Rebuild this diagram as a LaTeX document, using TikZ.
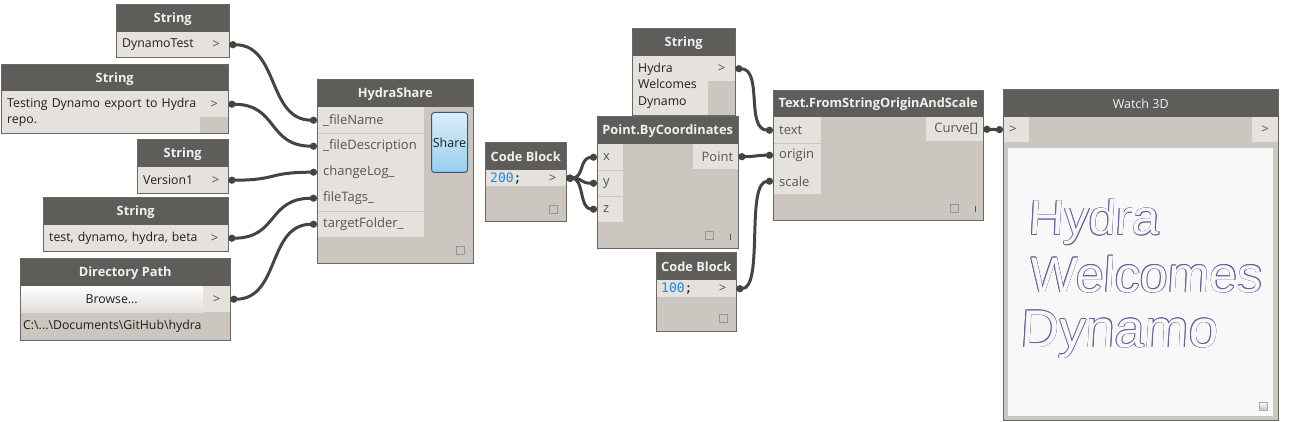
\documentclass[tikz,border=0pt]{standalone}
\usepackage{fontspec}
\setmainfont{Open Sans}
\newfontfamily\codefont{DejaVu Sans Mono}
\newfontfamily\viewfont{Liberation Sans}
\usetikzlibrary{arrows.meta,shapes,positioning}
\definecolor{headgrey}{RGB}{94,93,89}
\definecolor{headtext}{RGB}{240,240,240}
\definecolor{bodygrey}{RGB}{203,198,191}
\definecolor{portlight}{RGB}{229,226,221}
\definecolor{framegrey}{RGB}{105,104,101}
\definecolor{wiregrey}{RGB}{68,68,68}
\definecolor{porttext}{RGB}{85,85,85}
\definecolor{valtext}{RGB}{30,30,30}
\definecolor{codeblue}{RGB}{30,136,229}
\definecolor{sharetop}{RGB}{218,238,251}
\definecolor{sharebot}{RGB}{150,206,238}
\definecolor{shareframe}{RGB}{60,88,118}
\definecolor{viewbg}{RGB}{248,248,248}
\definecolor{outline}{RGB}{105,95,160}
\definecolor{togglegrey}{RGB}{150,150,150}
\tikzstyle{box}=[fill=bodygrey,anchor=north west,inner sep=0pt]
\tikzstyle{frame}=[draw=framegrey,line width=1pt]
\tikzstyle{head}=[fill=headgrey,text=headtext,anchor=north west,inner sep=0pt,minimum height=27pt,font=\fontsize{12.8}{14}\selectfont\bfseries]
\tikzstyle{cell}=[fill=portlight,anchor=north west,inner xsep=6pt,inner ysep=0pt,align=left,text=valtext,font=\fontsize{12.3}{16.5}\selectfont]
\tikzstyle{inport}=[cell,text=porttext,font=\fontsize{13}{16}\selectfont]
\tikzstyle{outport}=[cell,text=porttext,align=center,font=\fontsize{13}{16}\selectfont]
\tikzstyle{code}=[cell,inner xsep=5pt,font=\codefont\fontsize{13}{16}\selectfont]
\tikzstyle{toggle}=[draw=togglegrey,line width=0.8pt,minimum size=8pt,inner sep=0pt]
\tikzstyle{sepline}=[draw=bodygrey,line width=1pt]
\tikzstyle{wire}=[draw=wiregrey,line width=3pt,{Circle[length=7pt,width=7pt]}-{Circle[length=7pt,width=7pt]}]
\tikzstyle{viewtext}=[anchor=base west,inner sep=0pt,xslant=0.06]

\begin{document}
\begin{tikzpicture}[x=1pt,y=-1pt]
    \fill[white] (0,0) rectangle (1304,422);
    \useasboundingbox (0,0) rectangle (1304,422);

    % First we draw the String inputs
    \node[box,minimum width=113pt,minimum height=52pt] (str1) at (116,5) {};
    \node[head,minimum width=113pt] (str1-head) at (116,5) {String};
    \node[cell,text width=75pt,minimum height=25pt] (str1-val) at (116,32) {DynamoTest};
    \node[outport,text width=14pt,minimum height=25pt] (str1-out) at (203,32) {>};

    \node[box,minimum width=227pt,minimum height=68pt] (str2) at (1,65) {};
    \node[head,minimum width=227pt] (str2-head) at (1,65) {String};
    \node[cell,text width=187pt,minimum height=42pt] (str2-val) at (1,91) {\mbox{Testing Dynamo export to Hydra}\\repo.};
    \node[outport,text width=16pt,minimum height=26pt] (str2-out) at (200,91) {>};

    \node[box,minimum width=91pt,minimum height=53pt] (str3) at (137,140) {};
    \node[head,minimum width=91pt] (str3-head) at (137,140) {String};
    \node[cell,text width=54pt,minimum height=26pt] (str3-val) at (137,167) {\mbox{Version1}};
    \node[outport,text width=13pt,minimum height=26pt] (str3-out) at (203,167) {>};

    \node[box,minimum width=185pt,minimum height=53pt] (str4) at (43,198) {};
    \node[head,minimum width=185pt] (str4-head) at (43,198) {String};
    \node[cell,text width=146pt,minimum height=26pt] (str4-val) at (43,225) {\mbox{test, dynamo, hydra, beta}};
    \node[outport,text width=15pt,minimum height=26pt] (str4-out) at (201,225) {>};

    % Directory Path
    \node[box,minimum width=210pt,minimum height=81pt] (dir) at (20,259) {};
    \node[head,minimum width=210pt] (dir-head) at (20,259) {Directory Path};
    \node[cell,align=center,top color=white,bottom color=portlight!85!bodygrey,text width=171pt,minimum height=26pt] (dir-browse) at (20,286) {Browse...};
    \node[outport,text width=15pt,minimum height=26pt] (dir-out) at (203,286) {>};
    \node[cell,fill=none,inner xsep=3pt,text width=204pt,minimum height=28pt] (dir-path) at (20,312) {\mbox{C:\textbackslash...\textbackslash Documents\textbackslash GitHub\textbackslash hydra}};

    % HydraShare with its five inputs
    \node[box,minimum width=156pt,minimum height=183pt] (hs) at (317,80) {};
    \node[head,minimum width=156pt] (hs-head) at (317,80) {HydraShare};
    \foreach \y/\name/\lbl in {107/fileName/\_fileName, 133/fileDescription/\_fileDescription, 159/changeLog/changeLog\_, 185/fileTags/fileTags\_, 211/targetFolder/targetFolder\_}
        \node[inport,text width=95pt,minimum height=26pt] (hs-\name) at (317,\y) {\lbl};
    \draw[sepline] (hs-fileName.south west) -- (hs-fileName.south east);
    \draw[sepline] (hs-fileTags.south west) -- (hs-fileTags.south east);
    \node[anchor=north west,draw=shareframe,line width=1pt,rounded corners=3pt,top color=sharetop,bottom color=sharebot,minimum width=36pt,minimum height=60pt,inner sep=0pt,font=\fontsize{12.5}{14}\selectfont,text=valtext] (hs-share) at (431,112) {Share};
    \node[toggle] (hs-toggle) at (460,250) {};

    % Code Block feeding the point
    \node[box,minimum width=81pt,minimum height=78pt] (cb1) at (485,143) {};
    \node[head,minimum width=81pt] (cb1-head) at (485,143) {Code Block};
    \node[code,text width=44pt,minimum height=16pt] (cb1-val) at (485,170) {\textcolor{codeblue}{200};};
    \node[outport,text width=15pt,minimum height=16pt] (cb1-out) at (539,170) {>};
    \node[toggle] (cb1-toggle) at (553,209) {};

    % Point.ByCoordinates
    \node[box,minimum width=141pt,minimum height=131pt] (pt) at (597,117) {};
    \node[head,minimum width=141pt] (pt-head) at (597,117) {Point.ByCoordinates};
    \foreach \y/\name in {144/x, 170/y, 196/z}
        \node[inport,text width=14pt,minimum height=26pt] (pt-\name) at (597,\y) {\name};
    \draw[sepline] (pt-x.south west) -- (pt-x.south east);
    \draw[sepline] (pt-y.south west) -- (pt-y.south east);
    \node[outport,align=right,inner xsep=5pt,text width=35pt,minimum height=25pt] (pt-out) at (693,144) {Point};
    \node[toggle] (pt-toggle) at (709,235) {};
    \draw[draw=porttext,line width=1pt] (pt.south east) ++(-8,-8) -- ++(0,-6);

    % String with the words
    \node[box,minimum width=103pt,minimum height=86pt] (str5) at (632,29) {};
    \node[head,minimum width=103pt] (str5-head) at (632,29) {String};
    \node[cell,text width=64pt,minimum height=59pt] (str5-val) at (632,56) {Hydra\\Welcomes\\Dynamo};
    \node[outport,text width=15pt,minimum height=25pt] (str5-out) at (708,56) {>};

    % Code Block for the scale
    \node[box,minimum width=80pt,minimum height=78pt] (cb2) at (656,253) {};
    \node[head,minimum width=80pt] (cb2-head) at (656,253) {Code Block};
    \node[code,text width=43pt,minimum height=17pt] (cb2-val) at (656,280) {\textcolor{codeblue}{100};};
    \node[outport,text width=15pt,minimum height=17pt] (cb2-out) at (709,280) {>};
    \node[toggle] (cb2-toggle) at (723,318) {};

    % Text.FromStringOriginAndScale
    \node[box,minimum width=210pt,minimum height=129pt] (txt) at (773,91) {};
    \node[head,minimum width=210pt,minimum height=26pt] (txt-head) at (773,91) {Text.FromStringOriginAndScale};
    \foreach \y/\name in {117/text, 142/origin, 168/scale}
        \node[inport,text width=36pt,minimum height=26pt] (txt-\name) at (773,\y) {\name};
    \draw[sepline] (txt-text.south west) -- (txt-text.south east);
    \node[outport,align=right,inner xsep=5pt,text width=47pt,minimum height=24pt] (txt-out) at (926,117) {Curve[]};
    \node[toggle] (txt-toggle) at (954,208) {};
    \draw[draw=porttext,line width=1pt] (txt.south east) ++(-8,-8) -- ++(0,-6);

    % Watch 3D
    \node[box,minimum width=275pt,minimum height=330pt] (w3) at (1003,90) {};
    \node[head,minimum width=275pt,font=\fontsize{12.5}{14}\selectfont] (w3-head) at (1003,90) {Watch 3D};
    \node[inport,align=left,text width=14pt,minimum height=25pt] (w3-in) at (1003,117) {>};
    \node[outport,text width=14pt,minimum height=25pt] (w3-out) at (1252,117) {>};
    \node[anchor=north west,fill=viewbg,minimum width=265pt,minimum height=268pt,inner sep=0pt] (w3-view) at (1008,148) {};
    \node[anchor=north west,inner sep=0pt,minimum size=8pt,top color=white,bottom color=togglegrey!60,draw=togglegrey!80] (w3-corner) at (1259,402) {};
    \foreach \dx/\dy [count=\i] in {0.6/0,-0.6/0,0/0.6,0/-0.6,0.45/0.45,-0.45/0.45,0.45/-0.45,-0.45/-0.45} {
        \node[viewtext,text=outline,xshift=\dx pt,yshift=\dy pt,font=\viewfont\fontsize{49}{49}\selectfont] (w3-hydra-\i) at (1028,235) {Hydra};
        \node[viewtext,text=outline,xshift=\dx pt,yshift=\dy pt,font=\viewfont\fontsize{50}{50}\selectfont] (w3-welcomes-\i) at (1029,292) {Welcomes};
        \node[viewtext,text=outline,xshift=\dx pt,yshift=\dy pt,font=\viewfont\fontsize{53}{53}\selectfont] (w3-dynamo-\i) at (1020,347) {Dynamo};
    }
    \node[viewtext,text=viewbg,font=\viewfont\fontsize{49}{49}\selectfont] (w3-hydra) at (1028,235) {Hydra};
    \node[viewtext,text=viewbg,font=\viewfont\fontsize{50}{50}\selectfont] (w3-welcomes) at (1029,292) {Welcomes};
    \node[viewtext,text=viewbg,font=\viewfont\fontsize{53}{53}\selectfont] (w3-dynamo) at (1020,347) {Dynamo};

    % Frames round the nodes
    \foreach \n in {str1,str2,str3,str4,dir,hs,cb1,pt,str5,cb2,txt,w3}
        \draw[frame] (\n.north west) rectangle (\n.south east);

    % Connect the ports with wires
    \draw[wire] (str1-out.east) .. controls +(50,0) and +(-50,0) .. (hs-fileName.west);
    \draw[wire] (str2-out.east) .. controls +(50,0) and +(-50,0) .. (hs-fileDescription.west);
    \draw[wire] (str3-out.east) .. controls +(50,0) and +(-50,0) .. (hs-changeLog.west);
    \draw[wire] (str4-out.east) .. controls +(50,0) and +(-50,0) .. (hs-fileTags.west);
    \draw[wire] (dir-out.east) .. controls +(50,0) and +(-50,0) .. (hs-targetFolder.west);
    \foreach \dest in {x,y,z}
        \draw[wire] (cb1-out.east) .. controls +(18,0) and +(-18,0) .. (pt-\dest.west);
    \draw[wire] (str5-out.east) .. controls +(28,0) and +(-28,0) .. (txt-text.west);
    \draw[wire] (pt-out.east) .. controls +(18,0) and +(-18,0) .. (txt-origin.west);
    \draw[wire] (cb2-out.east) .. controls +(28,0) and +(-28,0) .. (txt-scale.west);
    \draw[wire] (txt-out.east) -- (w3-in.west);

\end{tikzpicture}
\end{document}
